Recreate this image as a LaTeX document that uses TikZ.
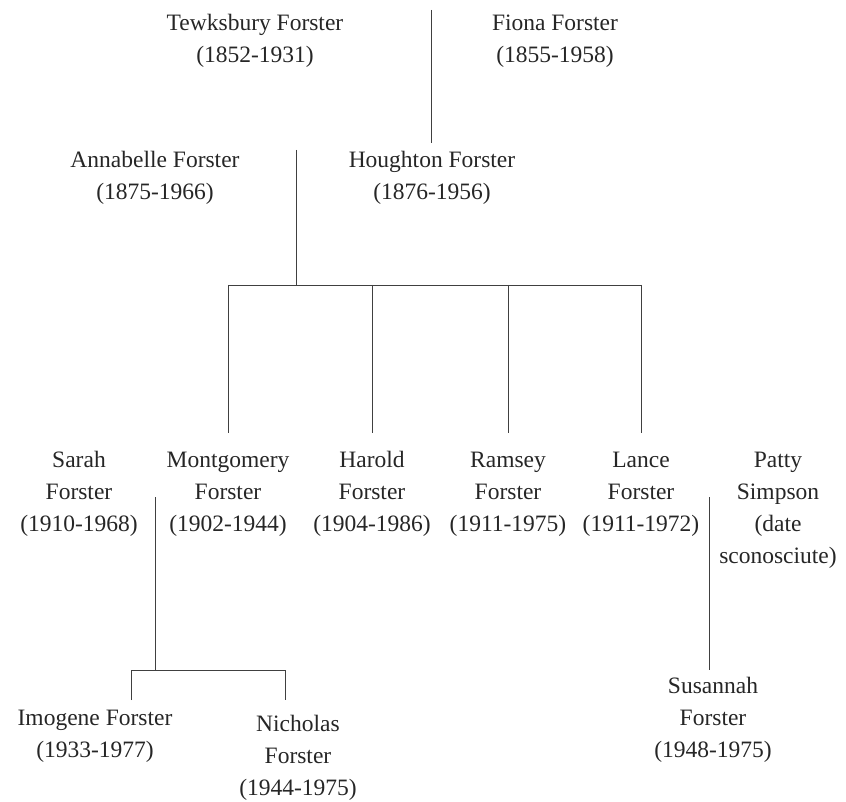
\documentclass[tikz,border=0pt]{standalone}
\usepackage{fontspec}
\setmainfont{Liberation Serif}
\begin{document}
\begin{tikzpicture}[x=1pt,y=-1pt,
  person/.style={align=center,font=\fontsize{23.5}{32}\selectfont,inner sep=0pt,text=black!85},
  link/.style={line width=0.9pt,draw=black!75}]
\useasboundingbox (0,0) rectangle (846,802);
% generation 1
\node[person] (tew) at (255,41) {Tewksbury Forster\\(1852-1931)};
\node[person] (fio) at (555,41) {Fiona Forster\\(1855-1958)};
% generation 2
\node[person] (ann) at (155,178) {Annabelle Forster\\(1875-1966)};
\node[person] (hou) at (432,178) {Houghton Forster\\(1876-1956)};
% generation 3
\node[person] (sarah)  at (79,494)  {Sarah\\Forster\\(1910-1968)};
\node[person] (mont)   at (228,494) {Montgomery\\Forster\\(1902-1944)};
\node[person] (harold) at (372,494) {Harold\\Forster\\(1904-1986)};
\node[person] (ramsey) at (508,494) {Ramsey\\Forster\\(1911-1975)};
\node[person] (lance)  at (641,494) {Lance\\Forster\\(1911-1972)};
\node[person] (patty)  at (778,510) {Patty\\Simpson\\(date\\sconosciute)};
% generation 4
\node[person] (imo)  at (95,736)  {Imogene Forster\\(1933-1977)};
\node[person] (nich) at (298,758) {Nicholas\\Forster\\(1944-1975)};
\node[person] (sus)  at (713,720) {Susannah\\Forster\\(1948-1975)};
% couple 1
\coordinate (c1) at (431,10);
\coordinate (c1e) at (431,143);
\draw[link] (c1) -- (c1e);
% couple 2 and children
\coordinate (c2) at (296,150);
\coordinate (bar2) at (296,285);
\coordinate (dropend) at (0,433);
\draw[link] (c2) -- (bar2);
\draw[link] (mont.north |- bar2) -- (lance.north |- bar2);
\foreach \k in {mont,harold,ramsey,lance}
  \draw[link] (\k.north |- bar2) -- (\k.north |- dropend);
% Montgomery + Sarah
\coordinate (c3) at (155,497);
\coordinate (bar3) at (155,670);
\draw[link] (c3) -- (bar3);
\coordinate (d1) at (131,670);
\coordinate (d1e) at (131,700);
\coordinate (d2) at (285,670);
\coordinate (d2e) at (285,700);
\draw[link] (d1e) -- (d1) -- (d2) -- (d2e);
% Lance + Patty
\coordinate (c4) at (709,497);
\coordinate (c4e) at (709,670);
\draw[link] (c4) -- (c4e);
\end{tikzpicture}
\end{document}
